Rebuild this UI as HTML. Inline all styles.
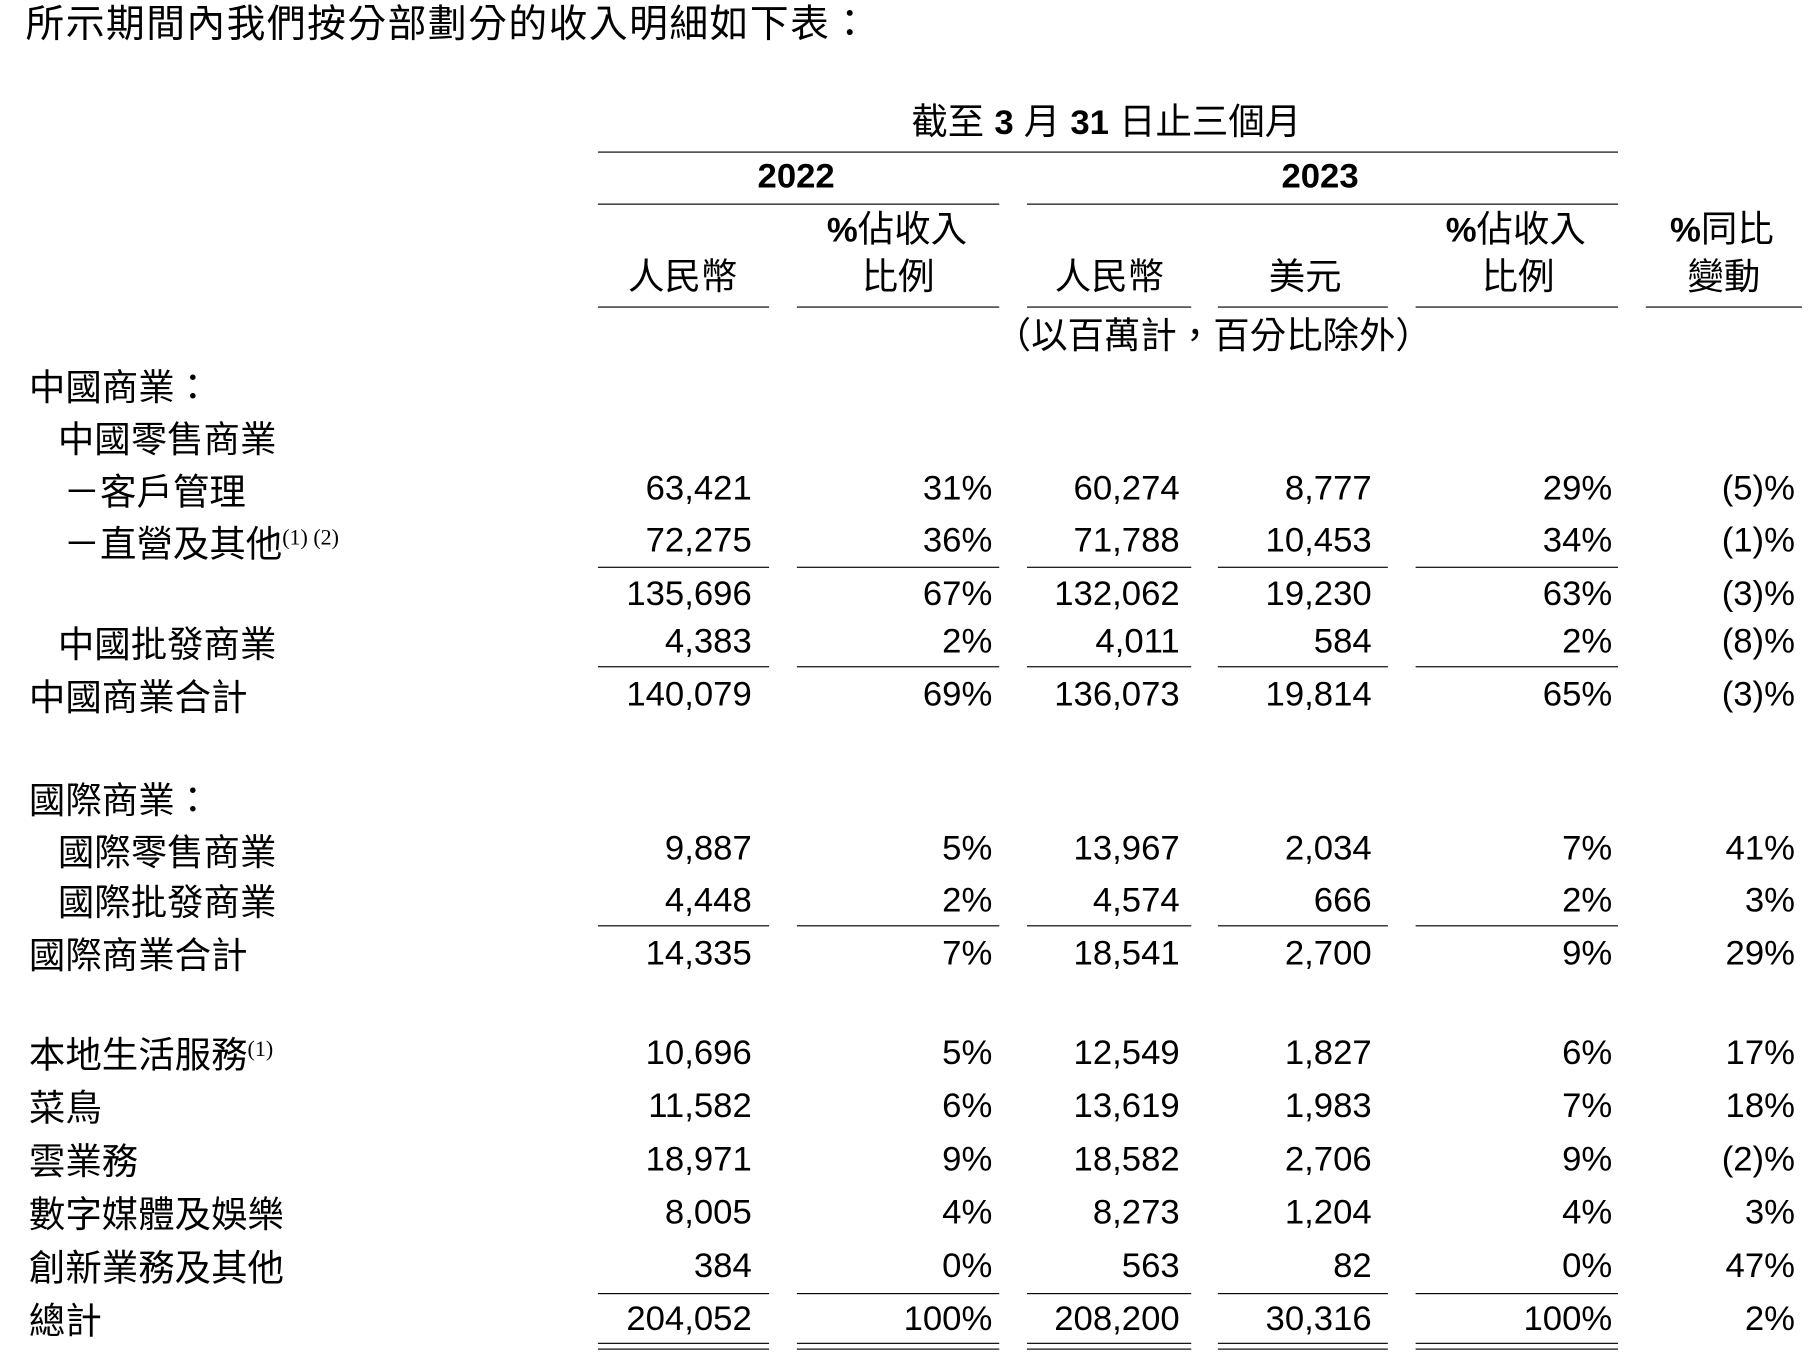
<!DOCTYPE html>
<html><head><meta charset="utf-8"><style>
html,body{margin:0;padding:0;background:#fff;}
body{width:1810px;height:1368px;overflow:hidden;position:relative;}
#c{position:absolute;left:0;top:0;width:1565px;height:1183px;transform:scale(1.15655);transform-origin:0 0;font-family:"Liberation Sans","Noto Sans CJK TC",sans-serif;font-size:31.5px;color:#000;}
#c div{position:absolute;line-height:34px;white-space:nowrap;}
.r{text-align:right;font-size:30px;}
.n{font-size:30px;}
.l{height:0;border-top:1.6px solid #000;}
.b{font-weight:bold;font-size:30px;}
sup{font-family:"Liberation Serif",serif;font-size:19px;vertical-align:top;position:relative;top:-4px;}
</style></head><body><div id="c">
<div style="left:22px;top:5px;font-size:33.5px;letter-spacing:1.3px">所示期間內我們按分部劃分的收入明細如下表：</div>
<div style="left:788px;top:88px">截至 <b class="n">3</b> 月 <b class="n">31</b> 日止三個月</div>
<div class="l" style="left:517px;top:131px;width:882px"></div>
<div class="b" style="left:655px;top:136px">2022</div>
<div class="b" style="left:1108px;top:136px">2023</div>
<div class="l" style="left:517px;top:176px;width:347px"></div>
<div class="l" style="left:888px;top:176px;width:511px"></div>
<div style="left:543px;top:222px">人民幣</div>
<div style="left:715px;top:181px"><b class="n">%</b>佔收入</div>
<div style="left:745px;top:222px">比例</div>
<div style="left:912px;top:222px">人民幣</div>
<div style="left:1097px;top:222px">美元</div>
<div style="left:1250px;top:181px"><b class="n">%</b>佔收入</div>
<div style="left:1281px;top:222px">比例</div>
<div style="left:1444px;top:181px"><b class="n">%</b>同比</div>
<div style="left:1459px;top:222px">變動</div>
<div class="l" style="left:517px;top:265px;width:148px"></div>
<div class="l" style="left:689px;top:265px;width:175px"></div>
<div class="l" style="left:888px;top:265px;width:142px"></div>
<div class="l" style="left:1053px;top:265px;width:147px"></div>
<div class="l" style="left:1224px;top:265px;width:175px"></div>
<div class="l" style="left:1423px;top:265px;width:135px"></div>
<div style="left:860px;top:273px">（以百萬計，百分比除外）</div>

<div style="left:25px;top:318px">中國商業：</div>
<div style="left:50px;top:363px">中國零售商業</div>

<div style="left:55px;top:408px">－客戶管理</div>
<div style="left:55px;top:453px">－直營及其他<sup>(1) (2)</sup></div>
<div style="left:50px;top:540px">中國批發商業</div>
<div style="left:25px;top:586px">中國商業合計</div>
<div style="left:25px;top:675px">國際商業：</div>
<div style="left:50px;top:720px">國際零售商業</div>
<div style="left:50px;top:763px">國際批發商業</div>
<div style="left:25px;top:809px">國際商業合計</div>
<div style="left:25px;top:895px">本地生活服務<sup>(1)</sup></div>
<div style="left:25px;top:941px">菜鳥</div>
<div style="left:25px;top:987px">雲業務</div>
<div style="left:25px;top:1033px">數字媒體及娛樂</div>
<div style="left:25px;top:1079px">創新業務及其他</div>
<div style="left:25px;top:1125px">總計</div>

<div class="l" style="left:517px;top:490px;width:148px"></div>
<div class="l" style="left:689px;top:490px;width:175px"></div>
<div class="l" style="left:888px;top:490px;width:142px"></div>
<div class="l" style="left:1053px;top:490px;width:147px"></div>
<div class="l" style="left:1224px;top:490px;width:175px"></div>
<div class="l" style="left:517px;top:576px;width:148px"></div>
<div class="l" style="left:689px;top:576px;width:175px"></div>
<div class="l" style="left:888px;top:576px;width:142px"></div>
<div class="l" style="left:1053px;top:576px;width:147px"></div>
<div class="l" style="left:1224px;top:576px;width:175px"></div>
<div class="l" style="left:517px;top:800px;width:148px"></div>
<div class="l" style="left:689px;top:800px;width:175px"></div>
<div class="l" style="left:888px;top:800px;width:142px"></div>
<div class="l" style="left:1053px;top:800px;width:147px"></div>
<div class="l" style="left:1224px;top:800px;width:175px"></div>
<div class="l" style="left:517px;top:1118px;width:148px"></div>
<div class="l" style="left:689px;top:1118px;width:175px"></div>
<div class="l" style="left:888px;top:1118px;width:142px"></div>
<div class="l" style="left:1053px;top:1118px;width:147px"></div>
<div class="l" style="left:1224px;top:1118px;width:175px"></div>
<div class="l" style="left:517px;top:1161px;width:148px"></div>
<div class="l" style="left:689px;top:1161px;width:175px"></div>
<div class="l" style="left:888px;top:1161px;width:142px"></div>
<div class="l" style="left:1053px;top:1161px;width:147px"></div>
<div class="l" style="left:1224px;top:1161px;width:175px"></div>
<div class="l" style="left:517px;top:1166px;width:148px"></div>
<div class="l" style="left:689px;top:1166px;width:175px"></div>
<div class="l" style="left:888px;top:1166px;width:142px"></div>
<div class="l" style="left:1053px;top:1166px;width:147px"></div>
<div class="l" style="left:1224px;top:1166px;width:175px"></div>

<div class="r" style="right:915px;top:406px">63,421</div><div class="r" style="right:707px;top:406px">31%</div><div class="r" style="right:545px;top:406px">60,274</div><div class="r" style="right:379px;top:406px">8,777</div><div class="r" style="right:171px;top:406px">29%</div><div class="r" style="right:13px;top:406px">(5)%</div>
<div class="r" style="right:915px;top:451px">72,275</div><div class="r" style="right:707px;top:451px">36%</div><div class="r" style="right:545px;top:451px">71,788</div><div class="r" style="right:379px;top:451px">10,453</div><div class="r" style="right:171px;top:451px">34%</div><div class="r" style="right:13px;top:451px">(1)%</div>
<div class="r" style="right:915px;top:497px">135,696</div><div class="r" style="right:707px;top:497px">67%</div><div class="r" style="right:545px;top:497px">132,062</div><div class="r" style="right:379px;top:497px">19,230</div><div class="r" style="right:171px;top:497px">63%</div><div class="r" style="right:13px;top:497px">(3)%</div>
<div class="r" style="right:915px;top:538px">4,383</div><div class="r" style="right:707px;top:538px">2%</div><div class="r" style="right:545px;top:538px">4,011</div><div class="r" style="right:379px;top:538px">584</div><div class="r" style="right:171px;top:538px">2%</div><div class="r" style="right:13px;top:538px">(8)%</div>
<div class="r" style="right:915px;top:584px">140,079</div><div class="r" style="right:707px;top:584px">69%</div><div class="r" style="right:545px;top:584px">136,073</div><div class="r" style="right:379px;top:584px">19,814</div><div class="r" style="right:171px;top:584px">65%</div><div class="r" style="right:13px;top:584px">(3)%</div>
<div class="r" style="right:915px;top:717px">9,887</div><div class="r" style="right:707px;top:717px">5%</div><div class="r" style="right:545px;top:717px">13,967</div><div class="r" style="right:379px;top:717px">2,034</div><div class="r" style="right:171px;top:717px">7%</div><div class="r" style="right:13px;top:717px">41%</div>
<div class="r" style="right:915px;top:762px">4,448</div><div class="r" style="right:707px;top:762px">2%</div><div class="r" style="right:545px;top:762px">4,574</div><div class="r" style="right:379px;top:762px">666</div><div class="r" style="right:171px;top:762px">2%</div><div class="r" style="right:13px;top:762px">3%</div>
<div class="r" style="right:915px;top:808px">14,335</div><div class="r" style="right:707px;top:808px">7%</div><div class="r" style="right:545px;top:808px">18,541</div><div class="r" style="right:379px;top:808px">2,700</div><div class="r" style="right:171px;top:808px">9%</div><div class="r" style="right:13px;top:808px">29%</div>
<div class="r" style="right:915px;top:894px">10,696</div><div class="r" style="right:707px;top:894px">5%</div><div class="r" style="right:545px;top:894px">12,549</div><div class="r" style="right:379px;top:894px">1,827</div><div class="r" style="right:171px;top:894px">6%</div><div class="r" style="right:13px;top:894px">17%</div>
<div class="r" style="right:915px;top:940px">11,582</div><div class="r" style="right:707px;top:940px">6%</div><div class="r" style="right:545px;top:940px">13,619</div><div class="r" style="right:379px;top:940px">1,983</div><div class="r" style="right:171px;top:940px">7%</div><div class="r" style="right:13px;top:940px">18%</div>
<div class="r" style="right:915px;top:986px">18,971</div><div class="r" style="right:707px;top:986px">9%</div><div class="r" style="right:545px;top:986px">18,582</div><div class="r" style="right:379px;top:986px">2,706</div><div class="r" style="right:171px;top:986px">9%</div><div class="r" style="right:13px;top:986px">(2)%</div>
<div class="r" style="right:915px;top:1032px">8,005</div><div class="r" style="right:707px;top:1032px">4%</div><div class="r" style="right:545px;top:1032px">8,273</div><div class="r" style="right:379px;top:1032px">1,204</div><div class="r" style="right:171px;top:1032px">4%</div><div class="r" style="right:13px;top:1032px">3%</div>
<div class="r" style="right:915px;top:1078px">384</div><div class="r" style="right:707px;top:1078px">0%</div><div class="r" style="right:545px;top:1078px">563</div><div class="r" style="right:379px;top:1078px">82</div><div class="r" style="right:171px;top:1078px">0%</div><div class="r" style="right:13px;top:1078px">47%</div>
<div class="r" style="right:915px;top:1124px">204,052</div><div class="r" style="right:707px;top:1124px">100%</div><div class="r" style="right:545px;top:1124px">208,200</div><div class="r" style="right:379px;top:1124px">30,316</div><div class="r" style="right:171px;top:1124px">100%</div><div class="r" style="right:13px;top:1124px">2%</div>
</div></body></html>
